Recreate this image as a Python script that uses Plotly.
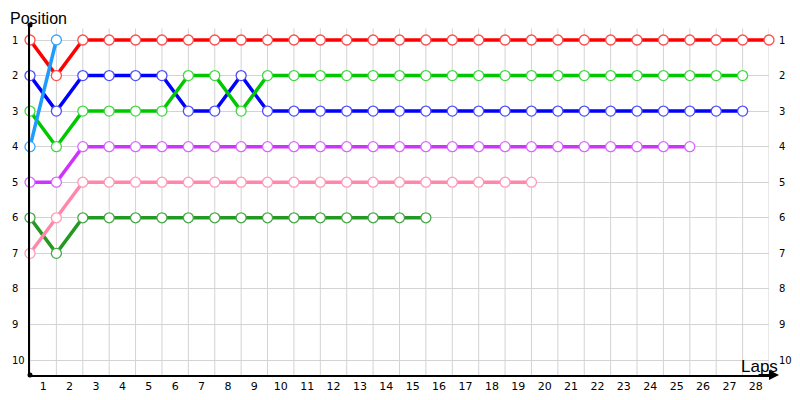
import plotly.graph_objects as go

laps = list(range(0, 29))
lap_labels = [str(i) for i in range(1, 29)]
positions = [1, 2, 3, 4, 5, 6, 7, 8, 9, 10]

red = [1, 2, 1, 1, 1, 1, 1, 1, 1, 1, 1, 1, 1, 1, 1, 1, 1, 1, 1, 1, 1, 1, 1, 1, 1, 1, 1, 1, 1]
blue = [2, 3, 2, 2, 2, 2, 3, 3, 2, 3, 3, 3, 3, 3, 3, 3, 3, 3, 3, 3, 3, 3, 3, 3, 3, 3, 3, 3]
green = [3, 4, 3, 3, 3, 3, 2, 2, 3, 2, 2, 2, 2, 2, 2, 2, 2, 2, 2, 2, 2, 2, 2, 2, 2, 2, 2, 2]
lightblue = [4, 1]
purple = [5, 5, 4, 4, 4, 4, 4, 4, 4, 4, 4, 4, 4, 4, 4, 4, 4, 4, 4, 4, 4, 4, 4, 4, 4, 4]
pink = [7, 6, 5, 5, 5, 5, 5, 5, 5, 5, 5, 5, 5, 5, 5, 5, 5, 5, 5, 5]
darkgreen = [6, 7, 6, 6, 6, 6, 6, 6, 6, 6, 6, 6, 6, 6, 6, 6]

series = [
    ("Red", red, "#ff0000", "#ff4d4d"),
    ("Blue", blue, "#0000ff", "#4d4dff"),
    ("Green", green, "#00c800", "#40d840"),
    ("DarkGreen", darkgreen, "#229922", "#44aa44"),
    ("Pink", pink, "#ff88aa", "#ff99bb"),
    ("Purple", purple, "#cc33ff", "#d966ff"),
    ("LightBlue", lightblue, "#1e9bff", "#3aa8ff"),
]

fig = go.Figure()
for name, vals, lc, mc in series:
    fig.add_trace(go.Scatter(
        x=laps[:len(vals)], y=vals, mode="lines+markers", name=name,
        line=dict(color=lc, width=3.5),
        marker=dict(symbol="circle", size=10, color="white", line=dict(color=mc, width=1.3)),
        cliponaxis=False, hoverinfo="skip",
    ))

# vertical grid lines at each lap
for lap in laps:
    fig.add_shape(type="line", xref="x", yref="paper", x0=lap, x1=lap, y0=0, y1=0.99,
                  line=dict(color="#d3d3d3", width=1), layer="below")

FONT = "DejaVu Sans"
OFF = 8  # page body margin
W, H = 800 - OFF, 400 - OFF
L, R, T, B = 30 - OFF, 31, 25 - OFF, 25
pw, ph = W - L - R, H - T - B

def px_x(p):
    return (p - OFF - L) / pw

def px_y(p):
    return (H - B - (p - OFF)) / ph

# position labels on both sides (left-aligned)
for p in positions:
    for xp in (10, 777):
        fig.add_annotation(x=px_x(xp), xref="paper", y=p, yref="y", text=str(p),
                           showarrow=False, xanchor="left", yanchor="middle",
                           font=dict(family=FONT, size=10, color="#000"))

# x axis arrow
fig.add_annotation(x=px_x(779), y=0, xref="paper", yref="paper", ax=-22, ay=0,
                   text="", showarrow=True, arrowhead=2, arrowsize=1, arrowwidth=2,
                   arrowcolor="black")

# titles
fig.add_annotation(x=px_x(8), y=px_y(8), xref="paper", yref="paper", text="Position",
                   showarrow=False, xanchor="left", yanchor="top",
                   font=dict(family="Liberation Sans", size=16, color="#000"))
fig.add_annotation(x=px_x(759), y=px_y(366), xref="paper", yref="paper", text="Laps",
                   showarrow=False, xanchor="center", yanchor="middle",
                   font=dict(family="Liberation Sans", size=17, color="#000"))

# axis end dots
for yp in [1, 0]:
    fig.add_shape(type="circle", xref="paper", yref="paper", xsizemode="pixel", ysizemode="pixel",
                  xanchor=0, yanchor=yp, x0=-2.5, x1=2.5, y0=-2.5, y1=2.5,
                  fillcolor="black", line=dict(color="black", width=0))

fig.update_layout(
    width=W, height=H, plot_bgcolor="white", paper_bgcolor="white",
    margin=dict(l=L, r=R, t=T, b=B, autoexpand=False), showlegend=False,
    xaxis=dict(range=[0, 28], tickvals=[i + 0.5 for i in range(28)], ticktext=lap_labels,
               showgrid=False, zeroline=False, showline=True, linecolor="black", linewidth=2,
               ticks="", automargin=False, tickfont=dict(family=FONT, size=11, color="#000")),
    yaxis=dict(range=[10 + 15 / 35.556, 1 - 15 / 35.556], tickvals=positions,
               showticklabels=False,
               showgrid=True, gridcolor="#d3d3d3", gridwidth=1, zeroline=False,
               showline=True, linecolor="black", linewidth=2, ticks="",
               automargin=False),
)

fig.write_html("out.html")
